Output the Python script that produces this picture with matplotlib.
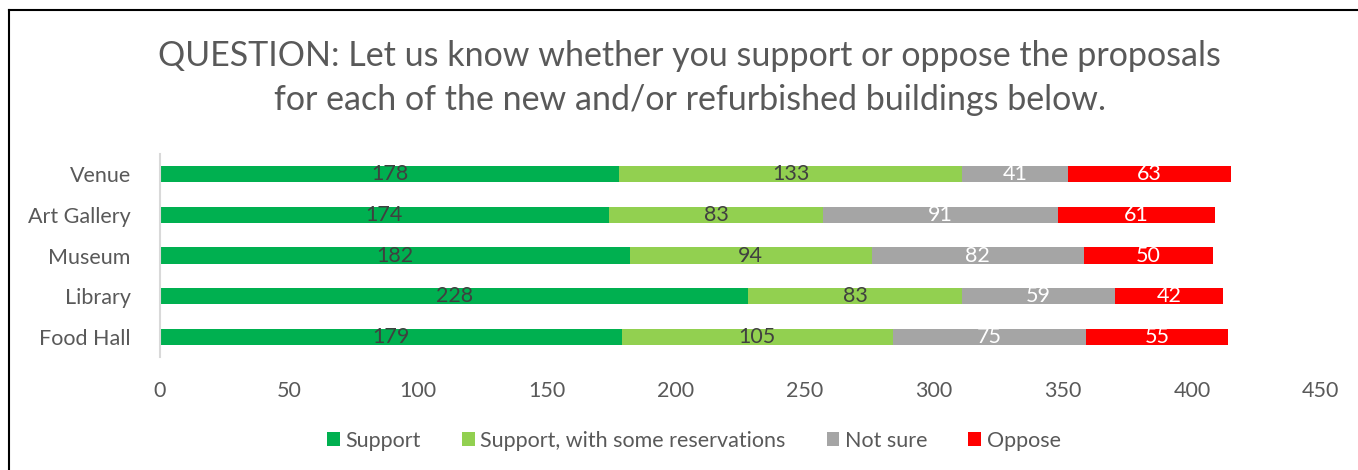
import numpy as np
import matplotlib.pyplot as plt
from matplotlib.lines import Line2D

plt.rcParams['font.family'] = ['Lato', 'DejaVu Sans']

buildings = ["Venue", "Art Gallery", "Museum", "Library", "Food Hall"]
support = [178, 174, 182, 228, 179]
support_res = [133, 83, 94, 83, 105]
not_sure = [41, 91, 82, 59, 75]
oppose = [63, 61, 50, 42, 55]

series = [
    ("Support", support, "#00B050", "#404040"),
    ("Support, with some reservations", support_res, "#92D050", "#404040"),
    ("Not sure", not_sure, "#A5A5A5", "white"),
    ("Oppose", oppose, "#FF0000", "white"),
]

txt = "#595959"

fig = plt.figure(figsize=(13.58, 4.70), dpi=100)
ax = fig.add_axes([0.1178, 0.2404, 0.8549, 0.4319])

y = np.arange(len(buildings))
left = np.zeros(len(buildings))
for name, vals, col, lc in series:
    vals = np.array(vals, dtype=float)
    ax.barh(y, vals, left=left, height=0.4, color=col, label=name)
    for yi, l, v in zip(y, left, vals):
        ax.text(l + v / 2, yi, str(int(v)), ha="center", va="center",
                color=lc, fontsize=15.5)
    left += vals

ax.set_ylim(len(buildings) - 0.5, -0.5)
ax.set_xlim(0, 450)
ax.set_xticks(np.arange(0, 451, 50))
ax.set_yticks(y)
ax.set_yticklabels(buildings)
ax.tick_params(axis="both", length=0, colors=txt, labelsize=15.5)
ax.tick_params(axis="x", pad=17)
ax.tick_params(axis="y", pad=21)
for s in ["top", "right", "bottom"]:
    ax.spines[s].set_visible(False)
ax.spines["left"].set_color("#D9D9D9")
ax.spines["left"].set_linewidth(1.5)

fig.text(0.508, 0.88, "QUESTION: Let us know whether you support or oppose the proposals",
         ha="center", va="center", fontsize=24.5, color=txt)
fig.text(0.508, 0.787, "for each of the new and/or refurbished buildings below.",
         ha="center", va="center", fontsize=24.5, color=txt)

fig.legend(loc="center", bbox_to_anchor=(0.511, 0.062), ncol=4, frameon=False,
           fontsize=15.5, labelcolor=txt, handlelength=0.6, handleheight=0.6,
           handletextpad=0.25, columnspacing=1.9)

# outer border (left and top only visible in the crop)
fig.add_artist(Line2D([0.0066, 0.0066], [0, 0.979], transform=fig.transFigure,
                      color="black", linewidth=1.5))
fig.add_artist(Line2D([0.0066, 1.0], [0.979, 0.979], transform=fig.transFigure,
                      color="black", linewidth=1.5))

fig.savefig("out.png", dpi=100)
